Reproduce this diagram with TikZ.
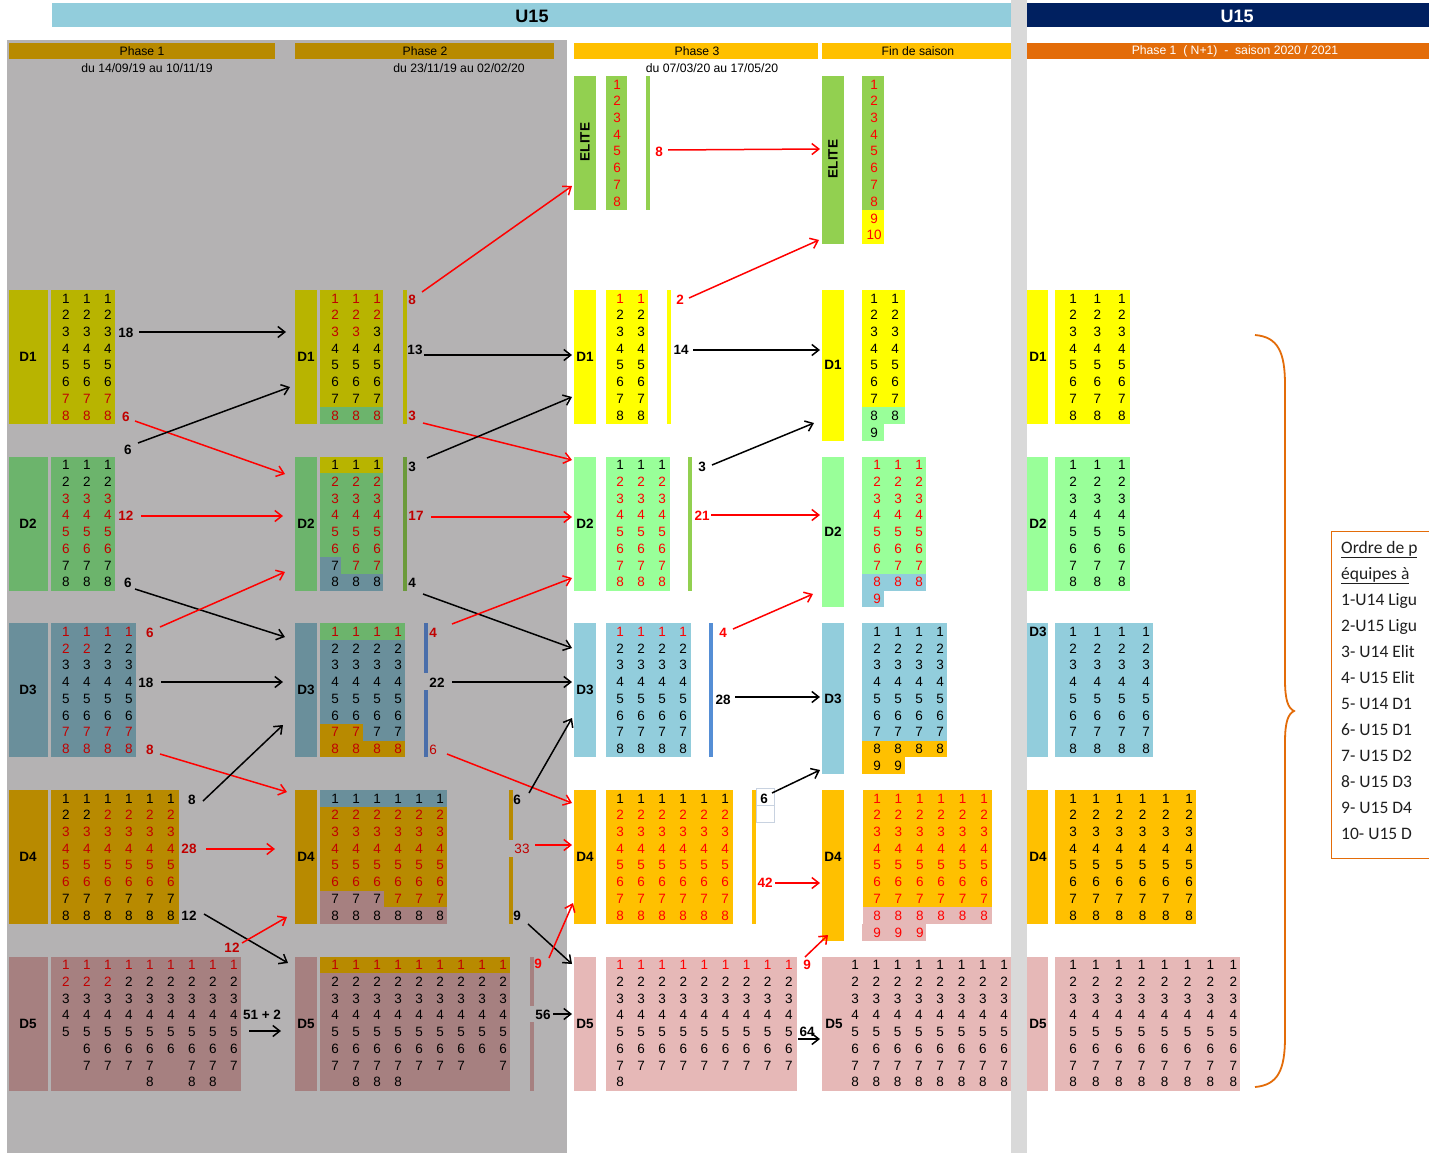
\documentclass[tikz,border=0pt]{standalone}
\usepackage{fontspec}
\setmainfont{Liberation Sans}
\newfontfamily\carl{Carlito}
\usetikzlibrary{arrows.meta}
\definecolor{k}{HTML}{000000}
\definecolor{r}{HTML}{C00000}
\definecolor{R}{HTML}{FF0000}
\definecolor{bgGray}{HTML}{B4B2B3}
\definecolor{bandGray}{HTML}{D9D9D9}
\definecolor{topBlue}{HTML}{92CDDC}
\definecolor{navy}{HTML}{002060}
\definecolor{gold}{HTML}{B88A00}
\definecolor{olive}{HTML}{B8B400}
\definecolor{dgreen}{HTML}{6CB46C}
\definecolor{gblue}{HTML}{6A8F9B}
\definecolor{rosy}{HTML}{A68080}
\definecolor{barGreen}{HTML}{6B9A3A}
\definecolor{barBlue}{HTML}{4A6EAA}
\definecolor{elite}{HTML}{92D050}
\definecolor{yel}{HTML}{FFFF00}
\definecolor{lgreen}{HTML}{99FF99}
\definecolor{lblue}{HTML}{92CDDC}
\definecolor{amber}{HTML}{FFC000}
\definecolor{pink}{HTML}{E6B8B7}
\definecolor{sblue}{HTML}{558ED5}
\definecolor{orng}{HTML}{E36C09}
\definecolor{cellLine}{HTML}{C8D2E0}
\def\Empt{e}
\newcommand\Grid[5]{%
  \foreach \rw [count=\j] in {#5}{%
    \foreach \t [count=\i from 0] in \rw {%
      \edef\tok{\t}%
      \ifx\tok\Empt\else
        \node[cellnum,text=\t] (#1-\j-\i) at ({#3+\i*#4},{#2+(\j-0.5)*16.75}) {\j};
      \fi}}}
\newcommand\Conn[4]{\coordinate (#1s) at (#3); \coordinate (#1e) at (#4); \draw[#2] (#1s) -- (#1e);}
\begin{document}
\begin{tikzpicture}[x=1pt,y=-1pt,
  cellnum/.style={font=\fontsize{13.5}{14}\selectfont, inner sep=0pt},
  dlab/.style={font=\fontsize{13.5}{14}\selectfont\bfseries, inner sep=0pt},
  lab/.style={font=\fontsize{13.5}{14}\selectfont\bfseries, inner sep=0pt},
  labn/.style={font=\fontsize{13.5}{14}\selectfont, inner sep=0pt},
  hdr/.style={font=\fontsize{12.2}{13}\selectfont, inner sep=0pt},
  arrK/.style={draw=black, line width=1.5pt, -{Straight Barb[length=7pt,width=11pt]}},
  arrR/.style={draw=R, line width=1.5pt, -{Straight Barb[length=7pt,width=11pt]}},
  boxtxt/.style={font=\carl\fontsize{17.5}{20}\selectfont, text=black!88, inner sep=0pt, anchor=west, text height=12pt, text depth=4pt}]
\useasboundingbox (0,0) rectangle (1429,1153);
\fill[white] (0,0) rectangle (1429,1153);
% backgrounds
\fill[bgGray] (7,40) rectangle (567,1153);
\fill[bandGray] (1011,0) rectangle (1027,1153);
\fill[topBlue] (52,3) rectangle (1011,27);
\fill[navy] (1027,3) rectangle (1429,27);
\node[font=\fontsize{18}{19}\selectfont\bfseries, inner sep=0] (u15a) at (532,16) {U15};
\node[font=\fontsize{18}{19}\selectfont\bfseries, text=white, inner sep=0] (u15b) at (1237,16) {U15};
% headers
\fill[gold] (9,43) rectangle (275,59);
\fill[gold] (295,43) rectangle (554,59);
\fill[amber] (574,43) rectangle (818,59);
\fill[amber] (822,43) rectangle (1011,59);
\fill[orng] (1027,43) rectangle (1429,59);
\node[hdr] (h1) at (142,51.5) {Phase 1};
\node[hdr] (h2) at (425,51.5) {Phase 2};
\node[hdr] (h3) at (697,51.5) {Phase 3};
\node[hdr] (h4) at (918,51.5) {Fin de saison};
\node[hdr,text=white] (h5) at (1235,51.5) {Phase 1\ \ ( N+1)\ \ -\ \ saison 2020 / 2021};
\node[hdr] (d1) at (147,68.5) {du 14/09/19 au 10/11/19};
\node[hdr] (d2) at (459,68.5) {du 23/11/19 au 02/02/20};
\node[hdr] (d3) at (712,68.5) {du 07/03/20 au 17/05/20};

% ===== Phase 1 =====
\fill[olive] (9,290) rectangle (48,424);
\fill[olive] (51,290) rectangle (115,424);
\fill[dgreen] (9,456.67) rectangle (48,590.67);
\fill[dgreen] (51,456.67) rectangle (115,590.67);
\fill[gblue] (9,623.33) rectangle (48,757.33);
\fill[gblue] (51,623.33) rectangle (136,757.33);
\fill[gold] (9,790) rectangle (48,924);
\fill[gold] (51,790) rectangle (179,924);
\fill[rosy] (9,956.67) rectangle (48,1090.67);
\fill[rosy] (51,956.67) rectangle (241,1090.67);
\node[dlab] (p1D1) at (28,357) {D1};
\node[dlab] (p1D2) at (28,523.7) {D2};
\node[dlab] (p1D3) at (28,690.3) {D3};
\node[dlab] (p1D4) at (28,857) {D4};
\node[dlab] (p1D5) at (28,1023.7) {D5};
\Grid{pa}{290}{66}{21}{{k,k,k},{k,k,k},{k,k,k},{k,k,k},{k,k,k},{k,k,k},{r,r,r},{r,r,r}}
\Grid{pb}{456.67}{66}{21}{{k,k,k},{k,k,k},{r,r,r},{r,r,r},{r,r,r},{r,r,r},{k,k,k},{k,k,k}}
\Grid{pc}{623.33}{66}{21}{{r,r,r,r},{r,r,k,k},{k,k,k,k},{k,k,k,k},{k,k,k,k},{k,k,k,k},{r,r,r,r},{r,r,r,r}}
\Grid{pd}{790}{66}{21}{{k,k,k,k,k,k},{k,k,r,r,r,r},{r,r,r,r,r,r},{r,r,r,r,r,r},{r,r,r,r,r,r},{r,r,r,r,r,r},{k,k,k,k,k,k},{k,k,k,k,k,k}}
\Grid{pe}{956.67}{66}{21}{{r,r,r,r,r,r,r,r,r},{r,r,r,k,k,k,k,k,k},{k,k,k,k,k,k,k,k,k},{k,k,k,k,k,k,k,k,k},{k,k,k,k,k,k,k,k,k},{e,k,k,k,k,k,k,k,k},{e,k,k,k,k,e,k,k,k},{e,e,e,e,k,e,k,k,e}}

% ===== Phase 2 =====
\fill[olive] (295,290) rectangle (317,424);
\fill[olive] (320,290) rectangle (383,407.25);
\fill[dgreen] (320,407.25) rectangle (383,424);
\fill[olive] (403,290) rectangle (407,424);
\fill[dgreen] (295,456.67) rectangle (317,590.67);
\fill[dgreen] (320,456.67) rectangle (383,590.67);
\fill[olive] (320,456.67) rectangle (383,473.42);
\fill[gblue] (320,557.17) rectangle (341.2,573.92);
\fill[gblue] (320,573.92) rectangle (383,590.67);
\fill[barGreen] (403,456.67) rectangle (407,590.67);
\fill[gblue] (295,623.33) rectangle (317,757.33);
\fill[gblue] (320,623.33) rectangle (405,757.33);
\fill[dgreen] (320,623.33) rectangle (405,640.08);
\fill[gold] (320,723.83) rectangle (362.5,740.58);
\fill[gold] (320,740.58) rectangle (405,757.33);
\fill[barBlue] (424,623.33) rectangle (428,673);
\fill[barBlue] (424,690) rectangle (428,757.33);
\fill[gold] (295,790) rectangle (317,924);
\fill[gold] (320,790) rectangle (447,924);
\fill[gblue] (320,790) rectangle (447,806.75);
\fill[rosy] (320,890.5) rectangle (383.5,907.25);
\fill[rosy] (320,907.25) rectangle (447,924);
\fill[gold] (509,790) rectangle (513,840);
\fill[gold] (509,857) rectangle (513,924);
\fill[rosy] (295,956.67) rectangle (317,1090.67);
\fill[rosy] (320,956.67) rectangle (510,1090.67);
\fill[gold] (320,956.67) rectangle (510,973.42);
\fill[rosy] (530,956.67) rectangle (534,1006);
\fill[rosy] (530,1022) rectangle (534,1090.67);
\node[dlab] (p2D1) at (306,357) {D1};
\node[dlab] (p2D2) at (306,523.7) {D2};
\node[dlab] (p2D3) at (306,690.3) {D3};
\node[dlab] (p2D4) at (306,857) {D4};
\node[dlab] (p2D5) at (306,1023.7) {D5};
\Grid{qa}{290}{335}{21}{{r,r,r},{r,r,r},{r,r,k},{k,k,k},{k,k,k},{k,k,k},{k,k,k},{r,r,r}}
\Grid{qb}{456.67}{335}{21}{{k,k,k},{r,r,r},{r,r,r},{r,r,r},{r,r,r},{r,r,r},{k,r,r},{k,k,k}}
\Grid{qc}{623.33}{335}{21}{{r,r,r,r},{k,k,k,k},{k,k,k,k},{k,k,k,k},{k,k,k,k},{k,k,k,k},{r,r,k,k},{r,r,r,r}}
\Grid{qd}{790}{335}{21}{{k,k,k,k,k,k},{r,r,r,r,r,r},{r,r,r,r,r,r},{r,r,r,r,r,r},{r,r,r,r,r,r},{r,r,r,r,r,r},{k,k,k,r,r,r},{k,k,k,k,k,k}}
\Grid{qe}{956.67}{335}{21}{{r,r,r,r,r,r,r,r,r},{k,k,k,k,k,k,k,k,k},{k,k,k,k,k,k,k,k,k},{k,k,k,k,k,k,k,k,k},{k,k,k,k,k,k,k,k,k},{k,k,k,k,k,k,k,k,k},{k,k,k,k,k,k,k,e,k},{e,k,k,k,e,e,e,e,e}}

% ===== Phase 3 =====
\fill[elite] (574,76) rectangle (596,210);
\fill[elite] (606,76) rectangle (627,210);
\fill[elite] (646,76) rectangle (650,210);
\fill[yel] (574,290) rectangle (596,424);
\fill[yel] (606,290) rectangle (648,424);
\fill[yel] (667,290) rectangle (671,424);
\fill[lgreen] (574,456.67) rectangle (596,590.67);
\fill[lgreen] (606,456.67) rectangle (670,590.67);
\fill[elite] (688,456.67) rectangle (692,590.67);
\fill[lblue] (574,623.33) rectangle (596,757.33);
\fill[lblue] (606,623.33) rectangle (691,757.33);
\fill[sblue] (709,623.33) rectangle (713,757.33);
\fill[amber] (574,790) rectangle (596,924);
\fill[amber] (606,790) rectangle (733,924);
\fill[amber] (752,790) rectangle (756,924);
\fill[pink] (574,956.67) rectangle (596,1090.67);
\fill[pink] (606,956.67) rectangle (797,1090.67);
\node[dlab,rotate=90] (p3E) at (585,142) {ELITE};
\node[dlab] (p3D1) at (585,357) {D1};
\node[dlab] (p3D2) at (585,523.7) {D2};
\node[dlab] (p3D3) at (585,690.3) {D3};
\node[dlab] (p3D4) at (585,857) {D4};
\node[dlab] (p3D5) at (585,1023.7) {D5};
\Grid{ra}{76}{617}{21}{{R},{R},{R},{R},{R},{R},{R},{R}}
\Grid{rb}{290}{620}{21}{{R,R},{k,k},{k,k},{k,k},{k,k},{k,k},{k,k},{k,k}}
\Grid{rc}{456.67}{620}{21}{{k,k,k},{R,R,R},{R,R,R},{R,R,R},{R,R,R},{R,R,R},{R,R,R},{R,R,R}}
\Grid{rd}{623.33}{620}{21}{{R,R,R,R},{k,k,k,k},{k,k,k,k},{k,k,k,k},{k,k,k,k},{k,k,k,k},{k,k,k,k},{k,k,k,k}}
\Grid{re}{790}{620}{21}{{k,k,k,k,k,k},{R,R,R,R,R,R},{R,R,R,R,R,R},{R,R,R,R,R,R},{R,R,R,R,R,R},{R,R,R,R,R,R},{R,R,R,R,R,R},{R,R,R,R,R,R}}
\Grid{rf}{956.67}{620}{21.1}{{R,R,R,R,R,R,R,R,R},{k,k,k,k,k,k,k,k,k},{k,k,k,k,k,k,k,k,k},{k,k,k,k,k,k,k,k,k},{k,k,k,k,k,k,k,k,k},{k,k,k,k,k,k,k,k,k},{k,k,k,k,k,k,k,k,k},{k,e,e,e,e,e,e,e,e}}
% spreadsheet cell artefact
\draw[cellLine, line width=0.7pt] (756,788) rectangle (774,822);
\draw[cellLine, line width=0.7pt] (756,805) -- (774,805);

% ===== Fin de saison =====
\fill[elite] (822,76) rectangle (844,243.5);
\fill[elite] (862,76) rectangle (884,210);
\fill[yel] (862,210) rectangle (884,243.5);
\fill[yel] (822,290) rectangle (844,440.75);
\fill[yel] (862,290) rectangle (905,407.25);
\fill[lgreen] (862,407.25) rectangle (905,424);
\fill[lgreen] (862,424) rectangle (884,440.75);
\fill[lgreen] (822,456.67) rectangle (844,607.42);
\fill[lgreen] (862,456.67) rectangle (926,573.92);
\fill[lblue] (862,573.92) rectangle (926,590.67);
\fill[lblue] (862,590.67) rectangle (884,607.42);
\fill[lblue] (822,623.33) rectangle (844,774.08);
\fill[lblue] (862,623.33) rectangle (947,740.58);
\fill[amber] (862,740.58) rectangle (947,757.33);
\fill[amber] (862,757.33) rectangle (905,774.08);
\fill[amber] (822,790) rectangle (844,940.75);
\fill[amber] (863,790) rectangle (992,907.25);
\fill[pink] (863,907.25) rectangle (992,924);
\fill[pink] (862,924) rectangle (926,940.75);
\fill[pink] (822,956.67) rectangle (1011,1090.67);
\node[dlab,rotate=90] (p4E) at (833,159) {ELITE};
\node[dlab] (p4D1) at (833,365) {D1};
\node[dlab] (p4D2) at (833,532) {D2};
\node[dlab] (p4D3) at (833,698.7) {D3};
\node[dlab] (p4D4) at (833,857) {D4};
\node[dlab] (p4D5) at (834,1023.7) {D5};
\Grid{sa}{76}{874}{21}{{R},{R},{R},{R},{R},{R},{R},{R},{R},{R}}
\Grid{sb}{290}{874}{21}{{k,k},{k,k},{k,k},{k,k},{k,k},{k,k},{k,k},{k,k},{k,e}}
\Grid{sc}{456.67}{877}{21}{{R,R,R},{R,R,R},{R,R,R},{R,R,R},{R,R,R},{R,R,R},{R,R,R},{R,R,R},{R,e,e}}
\Grid{sd}{623.33}{877}{21}{{k,k,k,k},{k,k,k,k},{k,k,k,k},{k,k,k,k},{k,k,k,k},{k,k,k,k},{k,k,k,k},{k,k,k,k},{k,k,e,e}}
\Grid{se}{790}{877}{21.4}{{R,R,R,R,R,R},{R,R,R,R,R,R},{R,R,R,R,R,R},{R,R,R,R,R,R},{R,R,R,R,R,R},{R,R,R,R,R,R},{R,R,R,R,R,R},{R,R,R,R,R,R},{R,R,R,e,e,e}}
\Grid{sf}{956.67}{855}{21.3}{{k,k,k,k,k,k,k,k},{k,k,k,k,k,k,k,k},{k,k,k,k,k,k,k,k},{k,k,k,k,k,k,k,k},{k,k,k,k,k,k,k,k},{k,k,k,k,k,k,k,k},{k,k,k,k,k,k,k,k},{k,k,k,k,k,k,k,k}}

% ===== Phase 1 (N+1) =====
\fill[yel] (1027,290) rectangle (1048,424);
\fill[yel] (1055,290) rectangle (1130,424);
\fill[lgreen] (1027,456.67) rectangle (1048,590.67);
\fill[lgreen] (1055,456.67) rectangle (1130,590.67);
\fill[lblue] (1027,623.33) rectangle (1048,757.33);
\fill[lblue] (1055,623.33) rectangle (1153,757.33);
\fill[amber] (1027,790) rectangle (1048,924);
\fill[amber] (1055,790) rectangle (1196,924);
\fill[pink] (1027,956.67) rectangle (1048,1090.67);
\fill[pink] (1055,956.67) rectangle (1240,1090.67);
\node[dlab] (p5D1) at (1038,357) {D1};
\node[dlab] (p5D2) at (1038,523.7) {D2};
\node[dlab] (p5D3) at (1038,632) {D3};
\node[dlab] (p5D4) at (1038,857) {D4};
\node[dlab] (p5D5) at (1038,1023.7) {D5};
\Grid{ta}{290}{1073}{24.4}{{k,k,k},{k,k,k},{k,k,k},{k,k,k},{k,k,k},{k,k,k},{k,k,k},{k,k,k}}
\Grid{tb}{456.67}{1073}{24.4}{{k,k,k},{k,k,k},{k,k,k},{k,k,k},{k,k,k},{k,k,k},{k,k,k},{k,k,k}}
\Grid{tc}{623.33}{1073}{24.4}{{k,k,k,k},{k,k,k,k},{k,k,k,k},{k,k,k,k},{k,k,k,k},{k,k,k,k},{k,k,k,k},{k,k,k,k}}
\Grid{td}{790}{1073}{23.2}{{k,k,k,k,k,k},{k,k,k,k,k,k},{k,k,k,k,k,k},{k,k,k,k,k,k},{k,k,k,k,k,k},{k,k,k,k,k,k},{k,k,k,k,k,k},{k,k,k,k,k,k}}
\Grid{te}{956.67}{1073}{22.9}{{k,k,k,k,k,k,k,k},{k,k,k,k,k,k,k,k},{k,k,k,k,k,k,k,k},{k,k,k,k,k,k,k,k},{k,k,k,k,k,k,k,k},{k,k,k,k,k,k,k,k},{k,k,k,k,k,k,k,k},{k,k,k,k,k,k,k,k}}

% ===== labels =====
\node[lab] (l01) at (126,333) {18};
\node[lab,text=r] (l02) at (126,417) {6};
\node[lab] (l03) at (128,450) {6};
\node[lab,text=r] (l04) at (126,516) {12};
\node[lab] (l05) at (128,583) {6};
\node[lab,text=r] (l06) at (150,633) {6};
\node[lab] (l07) at (146,682.5) {18};
\node[lab,text=r] (l08) at (150,750) {8};
\node[lab] (l09) at (192,800) {8};
\node[lab,text=r] (l10) at (189,849) {28};
\node[lab] (l11) at (189,916) {12};
\node[lab,text=r] (l12) at (232,948) {12};
\node[lab] (l13) at (262,1015) {51 + 2};
\node[lab,text=r] (l14) at (412,299.5) {8};
\node[lab] (l15) at (415,349.5) {13};
\node[lab,text=r] (l16) at (412,416) {3};
\node[lab] (l17) at (412,467) {3};
\node[lab,text=r] (l18) at (416,516) {17};
\node[lab] (l19) at (412,583) {4};
\node[lab,text=r] (l20) at (433,633) {4};
\node[lab] (l21) at (437,683) {22};
\node[labn,text=r] (l22) at (433,749.5) {6};
\node[lab] (l23) at (517,800) {6};
\node[labn,text=r] (l24) at (522,849) {33};
\node[lab] (l25) at (517,916) {9};
\node[lab,text=R] (l26) at (538,964) {9};
\node[lab] (l27) at (543,1015) {56};
\node[lab,text=R] (l28) at (659,151.5) {8};
\node[lab,text=R] (l29) at (680,299.5) {2};
\node[lab] (l30) at (681,350) {14};
\node[lab] (l31) at (702,467) {3};
\node[lab,text=R] (l32) at (702,516) {21};
\node[lab,text=R] (l33) at (723,633) {4};
\node[lab] (l34) at (723,699.5) {28};
\node[lab] (l35) at (764,799) {6};
\node[lab,text=R] (l36) at (765,883) {42};
\node[lab,text=R] (l37) at (807,965) {9};
\node[lab] (l38) at (807,1032) {64};

% ===== connectors =====
\Conn{c01}{arrK}{139,332}{286,332}
\Conn{c02}{arrR}{135,421}{285,474}
\Conn{c03}{arrK}{138,443}{290,387}
\Conn{c04}{arrR}{141,516}{283,516}
\Conn{c05}{arrK}{135,589}{285,637}
\Conn{c06}{arrR}{160,627}{285,572}
\Conn{c07}{arrK}{161,682}{283,682}
\Conn{c08}{arrR}{160,754}{287,792}
\Conn{c09}{arrK}{203,801}{283,725}
\Conn{c10}{arrR}{206,849}{275,849}
\Conn{c11}{arrK}{204,914}{288,963}
\Conn{c12}{arrR}{242,943}{287,917}
\Conn{c13}{arrK}{249,1031}{281,1031}
\Conn{c14}{arrR}{422,292}{572,186}
\Conn{c15}{arrK}{424,355}{572,355}
\Conn{c16}{arrR}{423,423}{572,460}
\Conn{c17}{arrK}{427,458}{572,397}
\Conn{c18}{arrR}{431,517}{572,517}
\Conn{c19}{arrK}{423,594}{572,648}
\Conn{c20}{arrR}{452,624}{572,578}
\Conn{c21}{arrK}{452,682}{572,682}
\Conn{c22}{arrR}{447,754}{572,803}
\Conn{c23}{arrK}{529,793}{572,718}
\Conn{c24}{arrR}{535,845}{572,845}
\Conn{c25}{arrK}{528,924}{572,964}
\Conn{c26}{arrR}{549,958}{573,903}
\Conn{c27}{arrK}{553,1014}{572,1014}
\Conn{c28}{arrR}{668,150}{820,149}
\Conn{c29}{arrR}{689,298}{819,240}
\Conn{c30}{arrK}{693,350}{820,350}
\Conn{c31}{arrK}{712,465}{814,423}
\Conn{c32}{arrR}{711,515}{820,515}
\Conn{c33}{arrR}{733,629}{813,594}
\Conn{c34}{arrK}{735,697}{820,697}
\Conn{c35}{arrK}{772,793}{820,770}
\Conn{c36}{arrR}{775,883}{820,883}
\Conn{c37}{arrR}{805,957}{828,935}
\Conn{c38}{arrK}{798,1039}{820,1039}

% ===== brace and legend =====
\draw[orng, line width=1.8pt] (1255,335) .. controls (1278,337) and (1285,352) .. (1285,385) -- (1285,680) .. controls (1285,700) and (1288,708) .. (1294,711) .. controls (1288,714) and (1285,722) .. (1285,742) -- (1285,1037) .. controls (1285,1070) and (1278,1085) .. (1255,1087);
\draw[orng, line width=1pt, fill=white] (1331,531) rectangle (1445,858);
\node[boxtxt] (t01) at (1341,549) {\underline{Ordre de p}};
\node[boxtxt] (t02) at (1341,575) {\underline{équipes à}};
\node[boxtxt] (t03) at (1341,601) {1-U14 Ligu};
\node[boxtxt] (t04) at (1341,627) {2-U15 Ligu};
\node[boxtxt] (t05) at (1341,653) {3- U14 Elit};
\node[boxtxt] (t06) at (1341,679) {4- U15 Elit};
\node[boxtxt] (t07) at (1341,705) {5- U14 D1};
\node[boxtxt] (t08) at (1341,731) {6- U15 D1};
\node[boxtxt] (t09) at (1341,757) {7- U15 D2};
\node[boxtxt] (t10) at (1341,783) {8- U15 D3};
\node[boxtxt] (t11) at (1341,809) {9- U15 D4};
\node[boxtxt] (t12) at (1341,835) {10- U15 D};
\end{tikzpicture}
\end{document}
